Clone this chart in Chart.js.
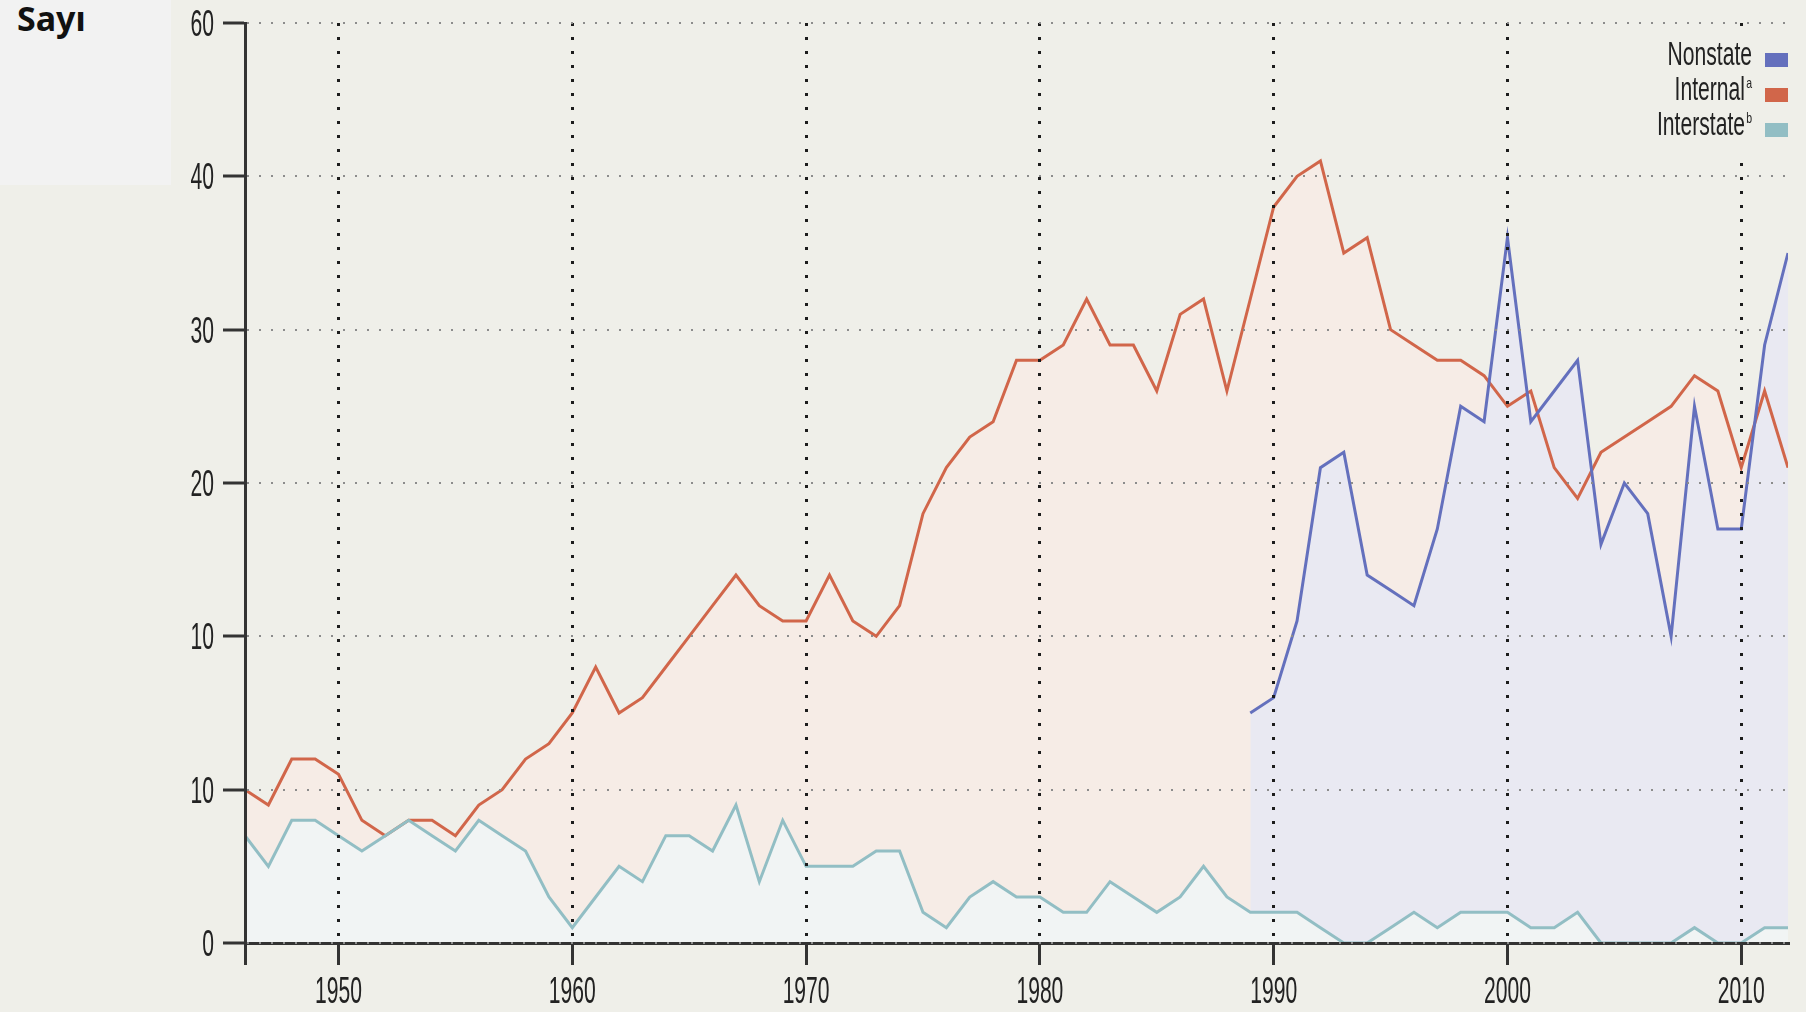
<!DOCTYPE html>
<html>
<head>
<meta charset="utf-8">
<script src="https://cdn.jsdelivr.net/npm/chart.js@4.4.0/dist/chart.umd.min.js"></script>
<style>
body { margin: 0; background: #efefe9; }
#wrap { position: relative; width: 1806px; height: 1012px; }
canvas { position: absolute; left: 0; top: 0; }
#sayi { position: absolute; left: 0; top: 0; width: 171px; height: 185px; background: #f2f2f2; }
#sayi span { position: absolute; left: 17px; top: 1px; font: bold 34px/34px "Noto Sans"; color: #111; }
</style>
</head>
<body>
<div id="wrap">
    <canvas id="chart" width="1806" height="1012"></canvas>
    <div id="sayi"><span>Sayı</span></div>
</div>
<script>
// Data
const years = [1946, 1947, 1948, 1949, 1950, 1951, 1952, 1953, 1954, 1955,
    1956, 1957, 1958, 1959, 1960, 1961, 1962, 1963, 1964, 1965,
    1966, 1967, 1968, 1969, 1970, 1971, 1972, 1973, 1974, 1975,
    1976, 1977, 1978, 1979, 1980, 1981, 1982, 1983, 1984, 1985,
    1986, 1987, 1988, 1989, 1990, 1991, 1992, 1993, 1994, 1995,
    1996, 1997, 1998, 1999, 2000, 2001, 2002, 2003, 2004, 2005,
    2006, 2007, 2008, 2009, 2010, 2011, 2012];
const internal = [10, 9, 12, 12, 11, 8, 7, 8, 8, 7,
    9, 10, 12, 13, 15, 18, 15, 16, 18, 20,
    22, 24, 22, 21, 21, 24, 21, 20, 22, 28,
    31, 33, 34, 38, 38, 39, 42, 39, 39, 36,
    41, 42, 36, 42, 48, 50, 51, 45, 46, 40,
    39, 38, 38, 37, 35, 36, 31, 29, 32, 33,
    34, 35, 37, 36, 31, 36, 31];
const interstate = [7, 5, 8, 8, 7, 6, 7, 8, 7, 6,
    8, 7, 6, 3, 1, 3, 5, 4, 7, 7,
    6, 9, 4, 8, 5, 5, 5, 6, 6, 2,
    1, 3, 4, 3, 3, 2, 2, 4, 3, 2,
    3, 5, 3, 2, 2, 2, 1, 0, 0, 1,
    2, 1, 2, 2, 2, 1, 1, 2, 0, 0,
    0, 0, 1, 0, 0, 1, 1];
// nonstate series only starts in 1989
const nonstateFrom = 1989;
const nonstate = [15, 16, 21, 31, 32, 24, 23, 22, 27, 35, 34, 46,
    34, 36, 38, 26, 30, 28, 20, 35, 27, 27, 39, 45];

// Axis ticks (the labels are printed like this in the original)
const yTicks = [0, 10, 20, 30, 40, 50, 60];
const yTickLabels = ['0', '10', '10', '20', '30', '40', '60'];
const decades = [1950, 1960, 1970, 1980, 1990, 2000, 2010];

// Legend notes
const notes = { Internal: 'a', Interstate: 'b' };
const legendOrder = ['Nonstate', 'Internal', 'Interstate'];

const bg = '#efefe9';
const narrow = 'Liberation Sans';

const toPoints = (xs, ys) => ys.map((v, i) => ({ x: xs[i], y: v }));
const nonstateYears = years.slice(years.indexOf(nonstateFrom));

// draw horizontally squeezed text (the original uses a condensed face)
function squeeze(ctx, text, x, y, align, sx) {
    ctx.save();
    ctx.translate(x, y);
    ctx.scale(sx, 1);
    ctx.textAlign = align;
    ctx.fillText(text, 0, 0);
    ctx.restore();
}

const labelPlugin = {
    id: 'labels',
    afterDraw(chart) {
        const ctx = chart.ctx;
        const xs = chart.scales.x;
        const ys = chart.scales.y;
        ctx.save();
        ctx.fillStyle = '#222';
        ctx.textBaseline = 'alphabetic';
        ctx.font = '37px "' + narrow + '"';
        yTicks.forEach((v, i) => {
            squeeze(ctx, yTickLabels[i], 214, ys.getPixelForValue(v) + 13, 'right', 0.57);
        });
        decades.forEach(v => {
            squeeze(ctx, String(v), xs.getPixelForValue(v), 1003, 'center', 0.57);
        });

        // legend, top right inside the plot
        ctx.fillStyle = bg;
        ctx.fillRect(1650, 30, 150, 122);
        const sets = chart.data.datasets;
        legendOrder.forEach((name, i) => {
            const ds = sets.find(d => d.label === name);
            const base = 65 + i * 35;
            const right = 1752;
            let textRight = right;
            ctx.fillStyle = '#222';
            if (notes[name]) {
                ctx.font = '15px "' + narrow + '"';
                squeeze(ctx, notes[name], right, base - 12, 'right', 0.7);
                textRight = right - 7;
            }
            ctx.font = '33px "' + narrow + '"';
            squeeze(ctx, name, textRight, base, 'right', 0.64);
            ctx.fillStyle = ds.borderColor;
            ctx.fillRect(1765, base - 12, 23, 14);
        });
        ctx.restore();
    }
};

new Chart(document.getElementById('chart'), {
    type: 'line',
    data: {
        datasets: [{
            label: 'Interstate',
            data: toPoints(years, interstate),
            borderColor: '#92bec4',
            backgroundColor: '#f1f4f4',
            fill: 'origin'
        }, {
            label: 'Nonstate',
            data: toPoints(nonstateYears, nonstate),
            borderColor: '#6470bd',
            backgroundColor: '#e9e9f2',
            fill: 'origin'
        }, {
            label: 'Internal',
            data: toPoints(years, internal),
            borderColor: '#d1664a',
            backgroundColor: '#f6ece6',
            fill: 'origin'
        }]
    },
    options: {
        responsive: false,
        animation: false,
        layout: { padding: { top: 23, right: 18, left: 0, bottom: 0 } },
        elements: {
            point: { radius: 0 },
            line: { tension: 0, borderWidth: 3 }
        },
        plugins: {
            legend: { display: false },
            tooltip: { enabled: false },
            filler: { drawTime: 'beforeDatasetsDraw' }
        },
        scales: {
            x: {
                type: 'linear',
                min: years[0],
                max: years[years.length - 1],
                afterBuildTicks: s => { s.ticks = [years[0], ...decades].map(v => ({ value: v })); },
                afterFit: s => { s.height = 69; },
                ticks: { display: false },
                grid: {
                    color: c => (c.tick && c.tick.value === years[0]) ? 'rgba(0,0,0,0)' : '#1c1c1c',
                    lineWidth: 3,
                    tickLength: 22,
                    tickColor: '#333',
                    tickWidth: 3,
                    z: 1
                },
                border: { color: '#333', width: 3, dash: [3, 11], z: 1 }
            },
            y: {
                min: 0,
                max: 60,
                afterBuildTicks: s => { s.ticks = yTicks.map(v => ({ value: v })); },
                afterFit: s => { s.width = 245; },
                ticks: { display: false },
                grid: {
                    color: '#8c8c8c',
                    lineWidth: 2,
                    tickLength: 22,
                    tickColor: '#333',
                    tickWidth: 3,
                    z: 1
                },
                border: { color: '#333', width: 3, dash: [2, 10], z: 1 }
            }
        }
    },
    plugins: [labelPlugin]
});
</script>
</body>
</html>
